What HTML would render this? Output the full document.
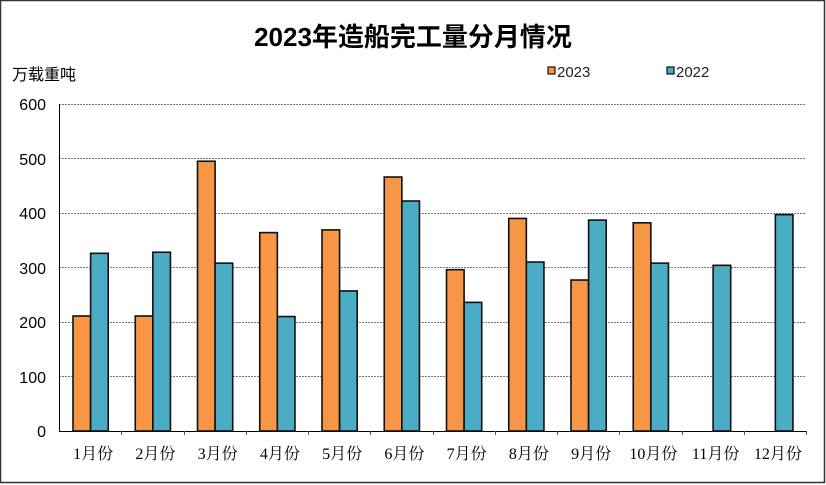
<!DOCTYPE html>
<html><head><meta charset="utf-8"><style>
html,body{margin:0;padding:0;background:#fff;}
svg{display:block;}
</style></head><body>
<svg width="826" height="485" xmlns="http://www.w3.org/2000/svg">
<rect x="0.5" y="0.5" width="824" height="482" fill="#fff" stroke="#333" stroke-width="1.5"/>
<text x="413" y="46" text-anchor="middle" font-family="'Liberation Sans','Noto Sans CJK SC',sans-serif" font-weight="bold" font-size="26" fill="#000">2023年造船完工量分月情况</text>
<text x="12" y="80" font-family="'Liberation Sans','Noto Sans CJK SC',sans-serif" font-size="16" fill="#000">万载重吨</text>
<g font-family="'Liberation Sans',sans-serif" font-size="16" fill="#000" text-anchor="end">
<text x="46" y="110">600</text><text x="46" y="165">500</text><text x="46" y="219">400</text><text x="46" y="274">300</text><text x="46" y="328">200</text><text x="46" y="383">100</text><text x="46" y="437">0</text>
</g>
<g stroke="#777" stroke-width="1" stroke-dasharray="2,1">
<line x1="59" y1="104.5" x2="806" y2="104.5"/><line x1="59" y1="158.5" x2="806" y2="158.5"/><line x1="59" y1="213.5" x2="806" y2="213.5"/><line x1="59" y1="267.5" x2="806" y2="267.5"/><line x1="59" y1="322.5" x2="806" y2="322.5"/><line x1="59" y1="376.5" x2="806" y2="376.5"/>
</g>
<line x1="59.5" y1="104" x2="59.5" y2="431" stroke="#000" stroke-width="1"/>
<line x1="59" y1="431.5" x2="806" y2="431.5" stroke="#000" stroke-width="1"/>
<g id="bars" stroke="#111" stroke-width="1.6"></g>
<g id="ticks" stroke="#555" stroke-width="1"></g>
<g id="labels" font-family="'Liberation Serif','Noto Serif CJK SC',serif" font-size="16" fill="#000" text-anchor="middle"></g>
<rect x="548" y="67" width="7" height="7" fill="#F79646" stroke="#111" stroke-width="1.2"/>
<text x="557" y="77" font-family="'Liberation Sans',sans-serif" font-size="15" fill="#222">2023</text>
<rect x="667" y="67" width="7" height="7" fill="#4BACC6" stroke="#111" stroke-width="1.2"/>
<text x="676" y="77" font-family="'Liberation Sans',sans-serif" font-size="15" fill="#222">2022</text>
<script>
var a=[211,211,495,364,369,466,296,390,277,382,null,null];
var b=[326,328,308,210,257,422,236,310,387,308,304,397];
var ns="http://www.w3.org/2000/svg",g=document.getElementById('bars'),t=document.getElementById('ticks'),l=document.getElementById('labels');
var gw=(806-59)/12,k=327/600;
function r(x,v,c){var e=document.createElementNS(ns,'rect');e.setAttribute('x',x);e.setAttribute('y',431-v*k);e.setAttribute('width',17.6);e.setAttribute('height',v*k);e.setAttribute('fill',c);g.appendChild(e);}
for(var i=0;i<12;i++){var x0=59+i*gw;
if(a[i]!=null)r(x0+14,a[i],'#F79646');
r(x0+31.6,b[i],'#4BACC6');
var ln=document.createElementNS(ns,'line');var tx=Math.round(x0+gw)+0.5;ln.setAttribute('x1',tx);ln.setAttribute('x2',tx);ln.setAttribute('y1',431);ln.setAttribute('y2',435);t.appendChild(ln);
var tt=document.createElementNS(ns,'text');tt.setAttribute('x',x0+gw/2+3);tt.setAttribute('y',459);tt.textContent=(i+1)+'月份';l.appendChild(tt);}
</script>
</svg>
</body></html>
